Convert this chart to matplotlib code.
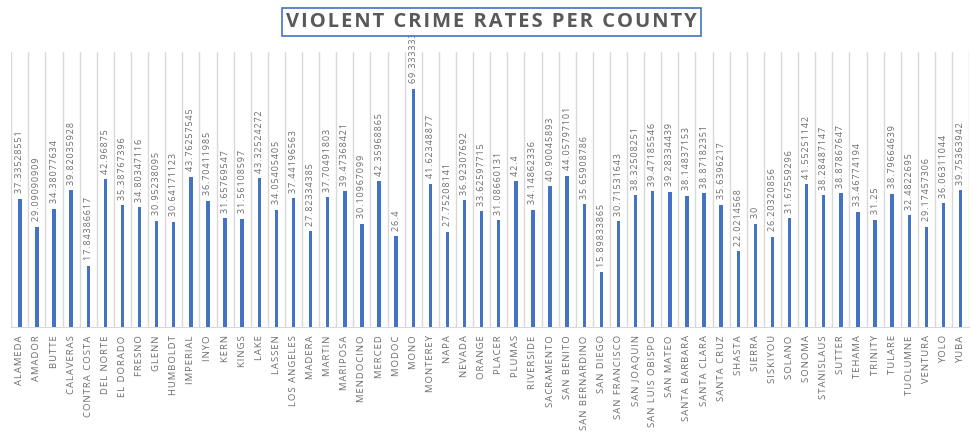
import matplotlib
matplotlib.use('Agg')
import matplotlib.pyplot as plt
import numpy as np

counties = [
    'ALAMEDA', 'AMADOR', 'BUTTE', 'CALAVERAS', 'CONTRA COSTA', 'DEL NORTE',
    'EL DORADO', 'FRESNO', 'GLENN', 'HUMBOLDT', 'IMPERIAL', 'INYO', 'KERN',
    'KINGS', 'LAKE', 'LASSEN', 'LOS ANGELES', 'MADERA', 'MARTIN', 'MARIPOSA',
    'MENDOCINO', 'MERCED', 'MODOC', 'MONO', 'MONTEREY', 'NAPA', 'NEVADA',
    'ORANGE', 'PLACER', 'PLUMAS', 'RIVERSIDE', 'SACRAMENTO', 'SAN BENITO',
    'SAN BERNARDINO', 'SAN DIEGO', 'SAN FRANCISCO', 'SAN JOAQUIN',
    'SAN LUIS OBISPO', 'SAN MATEO', 'SANTA BARBARA', 'SANTA CLARA',
    'SANTA CRUZ', 'SHASTA', 'SIERRA', 'SISKIYOU', 'SOLANO', 'SONOMA',
    'STANISLAUS', 'SUTTER', 'TEHAMA', 'TRINITY', 'TULARE', 'TUOLUMNE',
    'VENTURA', 'YOLO', 'YUBA',
]
rates = [
    37.33528551, 29.09090909, 34.38077634, 39.82035928, 17.84386617, 42.96875,
    35.38767396, 34.80347116, 30.95238095, 30.64171123, 43.76257545, 36.70411985,
    31.65769547, 31.56108597, 43.32524272, 34.05405405, 37.44196563, 27.82334385,
    37.70491803, 39.47368421, 30.10967099, 42.35968865, 26.4, 69.33333333,
    41.62348877, 27.75208141, 36.92307692, 33.62597715, 31.08660131, 42.4,
    34.14862336, 40.90045893, 44.05797101, 35.65908786, 15.89833865, 30.71531643,
    38.32508251, 39.47185546, 39.28334439, 38.14837153, 38.87182351, 35.6396217,
    22.0214568, 30, 26.20320856, 31.67559296, 41.55251142, 38.28487147,
    38.87867647, 33.46774194, 31.25, 38.79664639, 32.4822695, 29.17457306,
    36.06311044, 39.75363942,
]

grey = '#595959'
fonts = ['Open Sans', 'DejaVu Sans']


def spaced(s, gap='\u200a'):
    # crude letter spacing with hair spaces
    return gap.join(s)


fig = plt.figure(figsize=(9.72, 4.37), dpi=100)
ax = fig.add_axes([0.0116, 0.2517, 0.9855, 0.629])

x = np.arange(len(counties))
ax.bar(x, rates, width=0.2, color='#4472C4', zorder=3)

for xi, v in zip(x, rates):
    ax.annotate(spaced(f'{v:.10g}'), (xi, v), xytext=(0, 4),
                textcoords='offset points', rotation=90, ha='center',
                va='bottom', fontsize=6.5, color='#6b6b6b', family=fonts,
                zorder=4)

ax.set_xlim(-0.5, len(counties) - 0.5)
ax.set_ylim(0, 80)
ax.set_xticks(x)
ax.set_xticklabels([spaced(c) for c in counties], rotation=90, fontsize=6.8,
                   color='#6b6b6b', family=fonts)
ax.tick_params(axis='x', length=0, pad=6)
ax.set_yticks([])

# vertical separators between categories
for b in np.arange(-0.5, len(counties), 1.0):
    ax.axvline(b, color='#d9d9d9', lw=1, zorder=1)

for s in ['top', 'left', 'right']:
    ax.spines[s].set_visible(False)
ax.spines['bottom'].set_color('#d9d9d9')

fig.text(0.5055, 0.949, spaced('VIOLENT CRIME RATES PER COUNTY'),
         ha='center', va='center', fontsize=14.5, fontweight='bold',
         color=grey, family=fonts,
         bbox=dict(boxstyle='square,pad=0.2', fc='white', ec='#4472C4', lw=1.2),
         zorder=2)

fig.savefig('out.png', dpi=100)
